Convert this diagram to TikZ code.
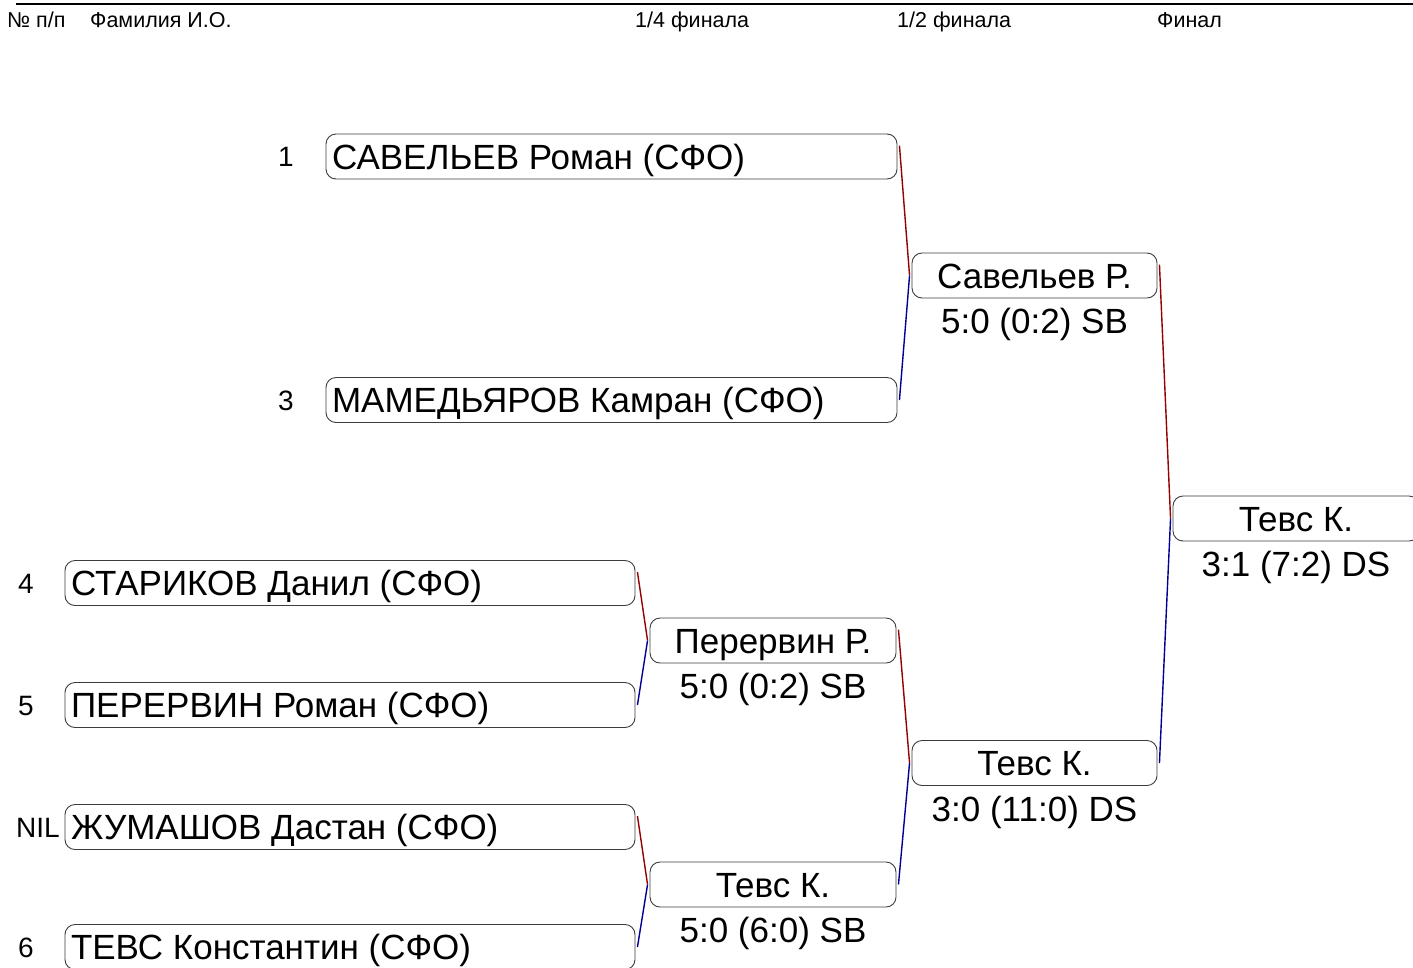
\documentclass[tikz,border=0pt]{standalone}
\usepackage{fontspec}
\setmainfont{Liberation Sans}
\usetikzlibrary{calc}
\definecolor{boxgray}{RGB}{60,60,60}
\definecolor{winred}{RGB}{150,0,0}
\definecolor{losblue}{RGB}{0,0,150}
\tikzset{
  pbox/.style={draw=boxgray, line width=0.9pt, rounded corners=10pt, minimum height=45pt,
    inner xsep=6pt, inner ysep=0pt, text height=25pt, text depth=0pt,
    font=\fontsize{35}{42}\selectfont},
  lbox/.style={pbox, minimum width=570pt},
  bbox/.style={pbox, minimum width=571pt},
  wbox/.style={pbox, minimum width=246pt},
  score/.style={anchor=base, inner sep=0pt, font=\fontsize{35}{42}\selectfont},
  num/.style={anchor=west, inner sep=0pt, text height=20pt, text depth=0pt,
    font=\fontsize{28}{34}\selectfont},
  hdr/.style={anchor=base west, inner sep=0pt, font=\fontsize{21.5}{26}\selectfont},
  winline/.style={draw=winred, line width=1.4pt},
  losline/.style={draw=losblue, line width=1.4pt},
}
\begin{document}
\begin{tikzpicture}[x=1pt, y=-1pt]
\clip (0,0) rectangle (1413,967);
\fill[white] (0,0) rectangle (1413,967);

% header
\coordinate (hl) at (16,4);
\coordinate (hr) at (1413,4);
\draw[line width=2.6pt] (hl) -- (hr);
\node[hdr] (h1) at (7,27) {№ п/п};
\node[hdr] (h2) at (90,27) {Фамилия И.О.};
\node[hdr] (h3) at (635,27) {1/4 финала};
\node[hdr] (h4) at (897,27) {1/2 финала};
\node[hdr] (h5) at (1157,27) {Финал};

% first round boxes
\node[lbox] (s4) at (350,583) {\makebox[558pt][l]{СТАРИКОВ Данил (СФО)}};
\node[lbox] (s5) at (350,705) {\makebox[558pt][l]{ПЕРЕРВИН Роман (СФО)}};
\node[lbox] (snil) at (350,827) {\makebox[558pt][l]{ЖУМАШОВ Дастан (СФО)}};
\node[lbox] (s6) at (350,947) {\makebox[558pt][l]{ТЕВС Константин (СФО)}};

% byes
\node[bbox] (s1) at (611.5,156.5) {\makebox[559pt][l]{САВЕЛЬЕВ Роман (СФО)}};
\node[bbox] (s3) at (611.5,400) {\makebox[559pt][l]{МАМЕДЬЯРОВ Камран (СФО)}};

% numbers
\node[num] (n1) at (278,156.5) {1};
\node[num] (n3) at (278,400) {3};
\node[num] (n4) at (18,583) {4};
\node[num] (n5) at (18,705) {5};
\node[num] (nnil) at (16,827) {NIL};
\node[num] (n6) at (18,947) {6};

% quarter-final winners
\node[wbox] (q1) at (773,640.5) {Перервин Р.};
\node[wbox] (q2) at (773,884.5) {Тевс К.};
% semi-final winners
\node[wbox, minimum width=245pt] (f1) at (1034.5,275.5) {Савельев Р.};
\node[wbox, minimum width=245pt] (f2) at (1034.5,763) {Тевс К.};
% final
\node[wbox] (fin) at (1296,518.5) {Тевс К.};

% scores
\node[score] (c1) at ($(q1.center)+(0,58)$) {5:0 (0:2) SB};
\node[score] (c2) at ($(q2.center)+(0,58)$) {5:0 (6:0) SB};
\node[score] (c3) at ($(f1.center)+(0,58)$) {5:0 (0:2) SB};
\node[score] (c4) at ($(f2.center)+(0,58)$) {3:0 (11:0) DS};
\node[score] (c5) at ($(fin.center)+(0,58)$) {3:1 (7:2) DS};

% connectors
\draw[winline] ($(s4.north east)+(2,12)$) -- ($(q1.west)+(-2,0)$);
\draw[losline] ($(s5.east)+(2,0)$) -- ($(q1.west)+(-2,0)$);
\draw[winline] ($(snil.north east)+(2,12)$) -- ($(q2.west)+(-2,0)$);
\draw[losline] ($(s6.east)+(2,0)$) -- ($(q2.west)+(-2,0)$);
\draw[winline] ($(s1.north east)+(2,12)$) -- ($(f1.west)+(-2,0)$);
\draw[losline] ($(s3.east)+(2,0)$) -- ($(f1.west)+(-2,0)$);
\draw[winline] ($(q1.north east)+(2,12)$) -- ($(f2.west)+(-2,0)$);
\draw[losline] ($(q2.east)+(2,0)$) -- ($(f2.west)+(-2,0)$);
\draw[winline] ($(f1.north east)+(2,12)$) -- ($(fin.west)+(-2,0)$);
\draw[losline] ($(f2.east)+(2,0)$) -- ($(fin.west)+(-2,0)$);
\end{tikzpicture}
\end{document}
